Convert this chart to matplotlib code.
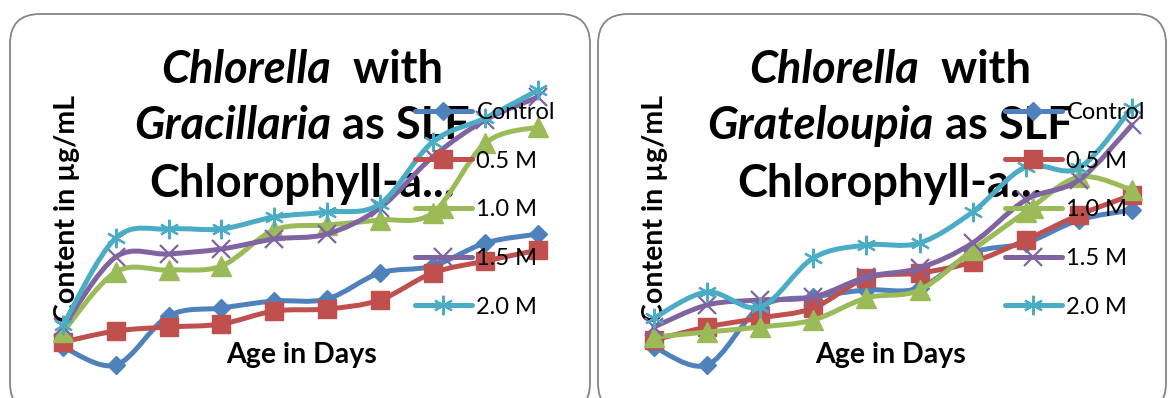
import numpy as np
import matplotlib
matplotlib.use("Agg")
import matplotlib.pyplot as plt
from matplotlib.path import Path
from matplotlib.patches import PathPatch, FancyBboxPatch
from matplotlib.lines import Line2D

# ---------------- data ----------------
days = list(range(1, 11))
series_names = ["Control", "0.5 M", "1.0 M", "1.5 M", "2.0 M"]

grac_control = [0.33, 0.15, 0.64, 0.72, 0.79, 0.81, 1.07, 1.14, 1.37, 1.46]
grac_05 = [0.38, 0.49, 0.53, 0.56, 0.69, 0.71, 0.80, 1.07, 1.19, 1.30]
grac_10 = [0.48, 1.08, 1.10, 1.14, 1.50, 1.55, 1.60, 1.67, 2.37, 2.53]
grac_15 = [0.53, 1.23, 1.26, 1.31, 1.41, 1.46, 1.72, 2.23, 2.60, 2.83]
grac_20 = [0.55, 1.42, 1.51, 1.51, 1.63, 1.68, 1.76, 2.38, 2.62, 2.90]

grat_control = [0.33, 0.15, 0.73, 0.83, 0.90, 0.92, 1.27, 1.37, 1.60, 1.70]
grat_05 = [0.40, 0.53, 0.62, 0.72, 1.02, 1.07, 1.18, 1.40, 1.65, 1.85]
grat_10 = [0.43, 0.48, 0.53, 0.60, 0.82, 0.90, 1.30, 1.68, 2.03, 1.90]
grat_15 = [0.53, 0.75, 0.80, 0.83, 1.03, 1.12, 1.37, 1.80, 2.00, 2.55]
grat_20 = [0.62, 0.88, 0.73, 1.22, 1.35, 1.37, 1.68, 2.13, 2.12, 2.72]

titles = [("Chlorella", "Gracillaria"), ("Chlorella", "Grateloupia")]
xlabel = "Age in Days"
ylabel = "Content in µg/mL"

colors = ["#4F81BD", "#C0504D", "#9BBB59", "#8064A2", "#4BACC6"]
markers = ["D", "s", "^", "x", (6, 2, 0)]
msizes = [9.5, 13, 14, 13, 14]
mews = [1, 1, 1, 1.6, 1.6]
LW = 3.6

W, H = 1168, 398
fig = plt.figure(figsize=(W / 100, H / 100), dpi=100)
fig.patch.set_facecolor("white")

FONT = "Lato"

# rounded panel borders
for x0, x1 in [(10, 590), (598, 1166)]:
    box = FancyBboxPatch((x0 / 100, -0.15), (x1 - x0) / 100, (H - 14) / 100 + 0.15,
                         boxstyle="round,pad=0,rounding_size=0.3",
                         transform=fig.dpi_scale_trans, facecolor="none",
                         edgecolor="#868686", linewidth=1.3, zorder=-1)
    fig.patches.append(box)


def smooth_path(xs, ys):
    pts = np.column_stack([xs, ys]).astype(float)
    n = len(pts)
    verts = [pts[0]]
    codes = [Path.MOVETO]
    for i in range(n - 1):
        p0 = pts[i - 1] if i > 0 else pts[i]
        p1 = pts[i]
        p2 = pts[i + 1]
        p3 = pts[i + 2] if i + 2 < n else pts[i + 1]
        c1 = p1 + (p2 - p0) / 6.0
        c2 = p2 - (p3 - p1) / 6.0
        verts += [c1, c2, p2]
        codes += [Path.CURVE4] * 3
    return Path(verts, codes)


def panel(left_px, step_px, data):
    x_left = left_px - step_px / 2
    width = step_px * 10
    ax = fig.add_axes([x_left / W, (H - 380) / H, width / W, 300 / H])
    ax.set_xlim(0.5, 10.5)
    ax.set_ylim(0, 3.0)
    ax.axis("off")
    ax.patch.set_alpha(0)
    ax.set_zorder(5)
    handles = []
    for k, vals in enumerate(data):
        p = smooth_path(days, vals)
        ax.add_patch(PathPatch(p, fill=False, edgecolor=colors[k], lw=LW,
                               capstyle="round", joinstyle="round", zorder=3 + k,
                               clip_on=False))
        ax.plot(days, vals, linestyle="none", marker=markers[k], ms=msizes[k],
                color=colors[k], markeredgecolor=colors[k], mew=mews[k],
                zorder=3 + k, clip_on=False)
        handles.append(Line2D([], [], color=colors[k], lw=LW, marker=markers[k],
                              ms=msizes[k], mew=mews[k], solid_capstyle="round"))
    return ax, handles


axL, hL = panel(63, 52.8, [grac_control, grac_05, grac_10, grac_15, grac_20])
axR, hR = panel(654, 53.1, [grat_control, grat_05, grat_10, grat_15, grat_20])

renderer = fig.canvas.get_renderer()


def line_of_pieces(pieces, cx, cy, size):
    texts = []
    for s, style in pieces:
        t = fig.text(0, 0, s, fontsize=size, fontweight="bold", fontstyle=style,
                     family=FONT, va="center", ha="left", transform=None, zorder=2)
        texts.append(t)
    widths = [t.get_window_extent(renderer).width for t in texts]
    total = sum(widths)
    x = cx - total / 2
    for t, w in zip(texts, widths):
        t.set_position((x, H - cy))
        x += w


TS = 32.5
for (genus, algae), cx in zip(titles, [302, 890]):
    line_of_pieces([(genus, "italic"), ("  with", "normal")], cx, 70, TS)
    line_of_pieces([(algae, "italic"), (" as SLF", "normal")], cx, 126, TS)
    line_of_pieces([("Chlorophyll-a...", "normal")], cx, 184, TS)

for cx, ylx in [(302, 67), (891, 655)]:
    fig.text(cx / W, (H - 355) / H, xlabel, fontsize=20.5, fontweight="bold", family=FONT,
             ha="center", va="center")
    fig.text(ylx / W, (H - 208) / H, ylabel, fontsize=20.5, fontweight="bold", family=FONT,
             ha="center", va="center", rotation=90)

for h, lx in [(hL, 415), (hR, 1005)]:
    leg = fig.legend(handles=h, labels=series_names, loc="upper left",
                     bbox_to_anchor=(lx / W, (H - 102) / H), frameon=False,
                     handlelength=2.4, handletextpad=0.2, labelspacing=1.17,
                     borderpad=0, borderaxespad=0,
                     prop={"family": FONT, "size": 17})
    leg.set_zorder(20)

fig.savefig("out.png", dpi=100)
